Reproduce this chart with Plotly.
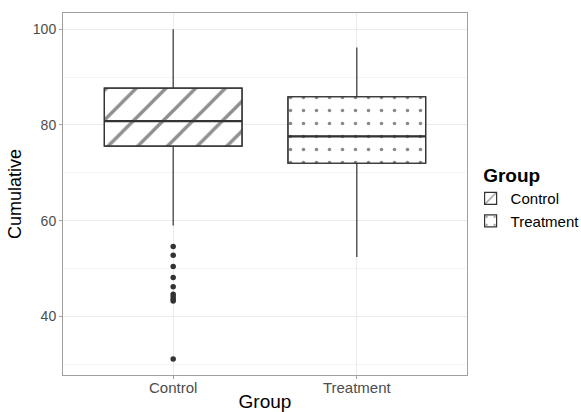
import plotly.graph_objects as go

# Summary statistics per group
groups = ["Control", "Treatment"]
positions = [0, 1]
q1 = [75.6, 72.0]
median = [80.8, 77.6]
q3 = [87.7, 85.9]
lower_whisker = [59.0, 52.4]
upper_whisker = [100.0, 96.2]

# Points beyond the whiskers (Control only)
control_outliers = [54.6, 52.8, 50.4, 48.1, 46.2, 44.6, 44.1, 43.6, 43.2, 31.1]

box_width = 0.75
patterns = [
    dict(shape="/", fgcolor="#8f8f8f", bgcolor="white", size=21, solidity=0.16, fillmode="replace"),
    dict(shape=".", fgcolor="#8a8a8a", bgcolor="white", size=13, solidity=0.06, fillmode="replace"),
]

fig = go.Figure()

# Patterned fill of each box (q1 -> q3); these carry the legend entries
for i, g in enumerate(groups):
    fig.add_trace(go.Bar(
        x=[positions[i]], y=[q3[i] - q1[i]], base=[q1[i]], width=box_width,
        marker=dict(color="white", pattern=patterns[i], line=dict(color="#333333", width=1.2)),
        name=g, legendgroup=g, hoverinfo="skip",
    ))

# Box outlines and whiskers
for i, g in enumerate(groups):
    fig.add_trace(go.Box(
        x=[positions[i]], q1=[q1[i]], median=[median[i]], q3=[q3[i]],
        lowerfence=[lower_whisker[i]], upperfence=[upper_whisker[i]],
        width=box_width, whiskerwidth=0, boxpoints=False,
        fillcolor="rgba(0,0,0,0)", line=dict(color="#333333", width=1.2),
        name=g, legendgroup=g, showlegend=False,
    ))

# Thicker median lines
for i, g in enumerate(groups):
    fig.add_trace(go.Scatter(
        x=[positions[i] - box_width / 2, positions[i] + box_width / 2],
        y=[median[i], median[i]], mode="lines",
        line=dict(color="#333333", width=2.2),
        showlegend=False, hoverinfo="skip",
    ))

# Outlying observations
fig.add_trace(go.Scatter(
    x=[positions[0]] * len(control_outliers), y=control_outliers, mode="markers",
    marker=dict(color="#333333", size=5.5),
    showlegend=False, hoverinfo="skip",
))

font_family = "Liberation Sans, Arial, sans-serif"

fig.update_layout(
    width=581, height=412,
    margin=dict(l=63, r=114, t=13, b=37, autoexpand=False),
    paper_bgcolor="white", plot_bgcolor="white",
    barmode="overlay",
    font=dict(family=font_family, color="#4d4d4d", size=13),
    legend=dict(
        title=dict(text="&nbsp;&nbsp;<b>Group</b>", font=dict(size=19, color="black")),
        xref="container", yref="container",
        x=0.81, xanchor="left", y=0.618, yanchor="top",
        font=dict(size=15, color="black"),
        tracegroupgap=0, itemwidth=30,
    ),
    showlegend=True,
)

fig.update_xaxes(
    range=[-0.6, 1.6], tickvals=positions, ticktext=groups, automargin=False,
    showgrid=True, gridcolor="#ebebeb", gridwidth=1,
    zeroline=False, showline=True, mirror=True, linecolor="#a0a0a0", linewidth=1,
    ticks="outside", ticklen=3, tickcolor="#a0a0a0", ticklabelstandoff=-4,
    tickfont=dict(size=15, color="#4d4d4d"),
    title=dict(text="Group", font=dict(size=19, color="black"), standoff=10),
)

fig.update_yaxes(
    range=[27.75, 103.4], tick0=0, dtick=20, automargin=False,
    showgrid=True, gridcolor="#ebebeb", gridwidth=1,
    minor=dict(dtick=10, showgrid=True, gridcolor="#f4f4f4", gridwidth=0.6),
    zeroline=False, showline=True, mirror=True, linecolor="#a0a0a0", linewidth=1,
    ticks="outside", ticklen=3, tickcolor="#a0a0a0",
    tickfont=dict(size=14, color="#4d4d4d"),
    title=dict(text="Cumulative", font=dict(size=18, color="black"), standoff=6),
)

fig.write_html("out.html")
